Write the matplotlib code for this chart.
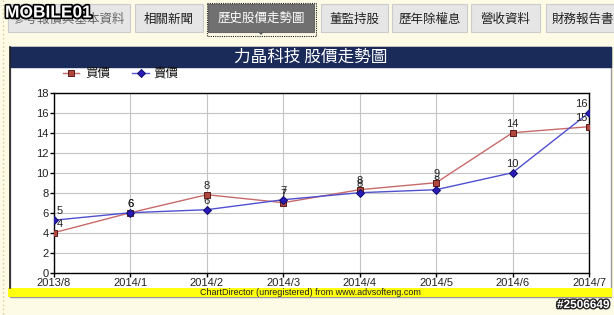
import matplotlib
matplotlib.use('Agg')
import matplotlib.pyplot as plt
import matplotlib.patheffects as pe
from matplotlib.patches import Rectangle, Polygon

# chart data
months = ['2013/8', '2014/1', '2014/2', '2014/3', '2014/4', '2014/5', '2014/6', '2014/7']
buy_price = [4.0, 6.0, 7.8, 7.0, 8.3, 9.0, 14.0, 14.6]
sell_price = [5.25, 6.0, 6.3, 7.3, 8.0, 8.3, 10.0, 16.0]
y_ticks = [0, 2, 4, 6, 8, 10, 12, 14, 16, 18]
series_names = ['買價', '賣價']
chart_title = '力晶科技 股價走勢圖'
tabs = ['參考報價與基本資料', '相關新聞', '歷史股價走勢圖', '董監持股', '歷年除權息', '營收資料', '財務報告書']
active_tab = 2

CJK = ['Noto Sans CJK TC', 'DejaVu Sans']
LAT = ['Liberation Sans', 'DejaVu Sans']
W, H = 614, 315

fig = plt.figure(figsize=(W / 100, H / 100), dpi=100)
fig.patch.set_facecolor('#fdfbe6')

# background layer in pixel coordinates
bg = fig.add_axes([0, 0, 1, 1])
bg.set_xlim(0, W)
bg.set_ylim(H, 0)
bg.axis('off')
bg.set_zorder(0)

# dotted page edge
bg.plot([2.5, 2.5], [0, H], color='#d8c89a', lw=1, ls=(0, (1, 2)))

# tabs
tab_x = [(8, 130), (135, 203), (208, 314), (321, 388), (392, 467), (471, 540), (546, 620)]
for i, (name, (x0, x1)) in enumerate(zip(tabs, tab_x)):
    if i == active_tab:
        bg.add_patch(Rectangle((x0, 4), x1 - x0, 28, facecolor='#707070', edgecolor='#666666', lw=0.8))
        bg.add_patch(Rectangle((x0 - 1.5, 2.5), x1 - x0 + 3, 33.5, facecolor='none',
                               edgecolor='#222222', lw=0.8, ls=(0, (1, 1))))
        mid = (x0 + x1) / 2
        bg.add_patch(Polygon([[mid - 3, 32], [mid + 3, 32], [mid, 35]], facecolor='#606060', edgecolor='none'))
        bg.text(mid, 18, name, ha='center', va='center', color='white', fontsize=9, family=CJK)
    else:
        bg.add_patch(Rectangle((x0, 4), x1 - x0, 28, facecolor='#e6e6e6', edgecolor='#cccccc', lw=0.8))
        col = '#666666' if i == 0 else '#222222'
        bg.text((x0 + x1) / 2, 19, name, ha='center', va='center', color=col, fontsize=9, family=CJK)

# chart panel
bg.add_patch(Rectangle((10, 47), 601, 250, facecolor='white', edgecolor='#9a9a9a', lw=1))
bg.add_patch(Rectangle((10, 47), 601, 20, facecolor='#1a2b5a', edgecolor='#1a2b5a', lw=1))
bg.plot([10, 10], [47, 288], color='#222222', lw=1.2)
bg.text(310.5, 57, chart_title, ha='center', va='center', color='white', fontsize=12, family=CJK)

# unregistered banner
bg.add_patch(Rectangle((8, 288), 604, 9, facecolor='#ffff10', edgecolor='none'))
bg.text(310, 292.5, 'ChartDirector (unregistered) from www.advsofteng.com', ha='center', va='center',
        fontsize=6.5, family=LAT, color='#222222')

# plot area
ax = fig.add_axes([54 / W, (H - 272.7) / H, 535 / W, 180 / H])
ax.set_zorder(2)
ax.set_facecolor('white')
x = list(range(len(months)))
ax.plot(x, buy_price, color='#c86a6a', lw=1, zorder=3)
ax.plot(x, sell_price, color='#5050d0', lw=1, zorder=3)

for series in (sell_price, buy_price):
    for i, v in enumerate(series):
        if i == 0:
            ha, dx = 'left', 2
        elif i == len(series) - 1:
            ha, dx = 'right', -1
        else:
            ha, dx = 'center', 0
        ax.annotate(f'{v:.0f}', (i, v), xytext=(dx, 3), textcoords='offset points', ha=ha, va='bottom',
                    fontsize=8, family=LAT, color='#222222', zorder=4)

ax.plot(x, buy_price, ls='none', marker='s', ms=5, mfc='#b0463e', mec='#5a1c1c', mew=0.7, zorder=5)
ax.plot(x, sell_price, ls='none', marker='D', ms=4.5, mfc='#2a1ab8', mec='#10106a', mew=0.7, zorder=6)

ax.set_xlim(0, len(months) - 1)
ax.set_ylim(0, 18)
ax.set_xticks(x)
ax.set_xticklabels(months)
ax.set_yticks(y_ticks)
ax.grid(True, color='#c4c4c4', lw=0.8)
ax.set_axisbelow(True)
for s in ax.spines.values():
    s.set_color('black')
    s.set_linewidth(1)
ax.tick_params(direction='out', length=3, width=1, pad=1, labelsize=8, colors='black')
for lab in ax.get_xticklabels() + ax.get_yticklabels():
    lab.set_family(LAT)
    lab.set_color('#222222')

# top layer: legend and watermarks
fg = fig.add_axes([0, 0, 1, 1])
fg.set_xlim(0, W)
fg.set_ylim(H, 0)
fg.axis('off')
fg.set_zorder(5)

fg.plot([63, 79], [73, 73], color='#c06a6a', lw=1)
fg.plot([71], [73], marker='s', ms=5, mfc='#b0463e', mec='#5a1c1c', mew=0.7)
fg.text(85, 73, series_names[0], ha='left', va='center', fontsize=9, family=CJK, color='#111111')
fg.plot([132, 149], [73, 73], color='#5a5ad0', lw=1)
fg.plot([141], [73], marker='D', ms=4.5, mfc='#2a1ab8', mec='#10106a', mew=0.7)
fg.text(153, 73, series_names[1], ha='left', va='center', fontsize=9, family=CJK, color='#111111')

fg.text(5, 13, 'MOBILE01', ha='left', va='center', fontsize=12.5, fontweight='bold', family=LAT,
        color='white', path_effects=[pe.withStroke(linewidth=2.4, foreground='black')])
fg.text(609, 305, '#2506649', ha='right', va='center', fontsize=8.5, fontweight='bold', family=LAT,
        color='white', path_effects=[pe.withStroke(linewidth=2, foreground='#222222')])

fig.savefig('out.png', dpi=100, facecolor=fig.get_facecolor())
